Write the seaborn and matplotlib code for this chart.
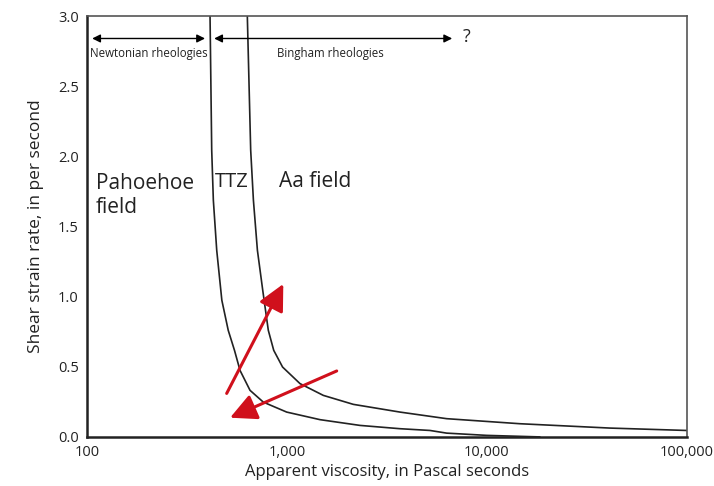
import pandas as pd
import matplotlib
matplotlib.use("Agg")
import matplotlib.pyplot as plt
import matplotlib.ticker as mticker
import seaborn as sns

# =========================================================
# DATA
# =========================================================

# lower curve (boundary pahoehoe / TTZ)
visc_pahoehoe = [412, 420, 428, 445, 472, 508, 546, 582, 653, 761, 996, 1462,
                 2317, 3673, 5188, 6288, 9966, 18400]
rate_pahoehoe = [3.0, 2.044, 1.687, 1.330, 0.974, 0.760, 0.617, 0.474, 0.332, 0.248, 0.177, 0.123,
                 0.082, 0.0585, 0.046, 0.027, 0.011, 0.0]

# upper curve (boundary TTZ / aa)
visc_aa = [633, 658, 679, 711, 756, 806, 858, 950, 1161, 1519, 2146, 3673,
           6288, 14620, 41210, 99650]
rate_aa = [3.0, 2.044, 1.687, 1.330, 1.045, 0.760, 0.617, 0.498, 0.380, 0.296, 0.232, 0.177,
           0.130, 0.094, 0.063, 0.046]

curve_names = ["pahoehoe-TTZ", "TTZ-aa"]

# red arrows: (x_tail, y_tail) -> (x_tip, y_tip)
arrow_up = [(499, 0.31), (958, 1.09)]
arrow_down = [(1772, 0.47), (519, 0.137)]

field_labels = ["Pahoehoe\nfield", "TTZ", "Aa field"]
x_ticks = [100, 1000, 10000, 100000]
x_tick_labels = ["100", "1,000", "10,000", "100,000"]
y_ticks = [0.0, 0.5, 1.0, 1.5, 2.0, 2.5, 3.0]

# =========================================================
# PLOT
# =========================================================

sns.set_style("white")
plt.rcParams["font.family"] = ["Open Sans", "DejaVu Sans"]

df = pd.concat([
    pd.DataFrame({"visc": visc_pahoehoe, "rate": rate_pahoehoe, "curve": curve_names[0]}),
    pd.DataFrame({"visc": visc_aa, "rate": rate_aa, "curve": curve_names[1]}),
])

fig = plt.figure(figsize=(7.14, 4.86), dpi=100)
ax = fig.add_axes([0.122, 0.101, 0.840, 0.866])

sns.lineplot(data=df, x="visc", y="rate", hue="curve", units="curve", estimator=None,
             sort=False, palette=["#222222", "#222222"], linewidth=1.2, legend=False, ax=ax)

ax.set_xscale("log")
ax.set_xlim(100, 100000)
ax.set_ylim(0, 3.0)
ax.set_xticks(x_ticks)
ax.set_xticklabels(x_tick_labels)
ax.xaxis.set_minor_locator(mticker.NullLocator())
ax.set_yticks(y_ticks)
ax.set_yticklabels([f"{v:.1f}" for v in y_ticks])
ax.tick_params(axis="both", direction="in", length=6, width=1, labelsize=10.5, pad=6, colors="#222222")

for side in ["left", "bottom"]:
    ax.spines[side].set_color("#222222")
    ax.spines[side].set_linewidth(1.8)
for side in ["top", "right"]:
    ax.spines[side].set_color("#555555")
    ax.spines[side].set_linewidth(1.2)

ax.set_xlabel("Apparent viscosity, in Pascal seconds", fontsize=12, labelpad=3, color="#222222")
ax.set_ylabel("Shear strain rate, in per second", fontsize=12.5, labelpad=10, color="#222222")

# rheology arrows at the top
ax.annotate("", xy=(106, 2.84), xytext=(389, 2.84),
            arrowprops=dict(arrowstyle="<|-|>", color="black", lw=1, mutation_scale=12, shrinkA=0, shrinkB=0))
ax.annotate("", xy=(432, 2.84), xytext=(6700, 2.84),
            arrowprops=dict(arrowstyle="<|-|>", color="black", lw=1, mutation_scale=12, shrinkA=0, shrinkB=0))
ax.text(7600, 2.85, "?", fontsize=13, ha="left", va="center", color="#222222")
ax.text(203, 2.73, "Newtonian rheologies", fontsize=8.3, ha="center", va="center", color="#222222")
ax.text(1640, 2.73, "Bingham rheologies", fontsize=8.3, ha="center", va="center", color="#222222")

# field labels
ax.text(111, 1.72, field_labels[0], fontsize=15, ha="left", va="center", linespacing=1.15, color="#222222")
ax.text(437, 1.82, field_labels[1], fontsize=14.5, ha="left", va="center", color="#222222")
ax.text(912, 1.82, field_labels[2], fontsize=15, ha="left", va="center", color="#222222")

# red arrows
for tail, tip in [arrow_up, arrow_down]:
    ax.annotate("", xy=tip, xytext=tail,
                arrowprops=dict(arrowstyle="-|>,head_length=1.0,head_width=0.5", color="#d0101c",
                                lw=2.2, mutation_scale=16, shrinkA=0, shrinkB=0))

fig.savefig("out.png", dpi=100)
